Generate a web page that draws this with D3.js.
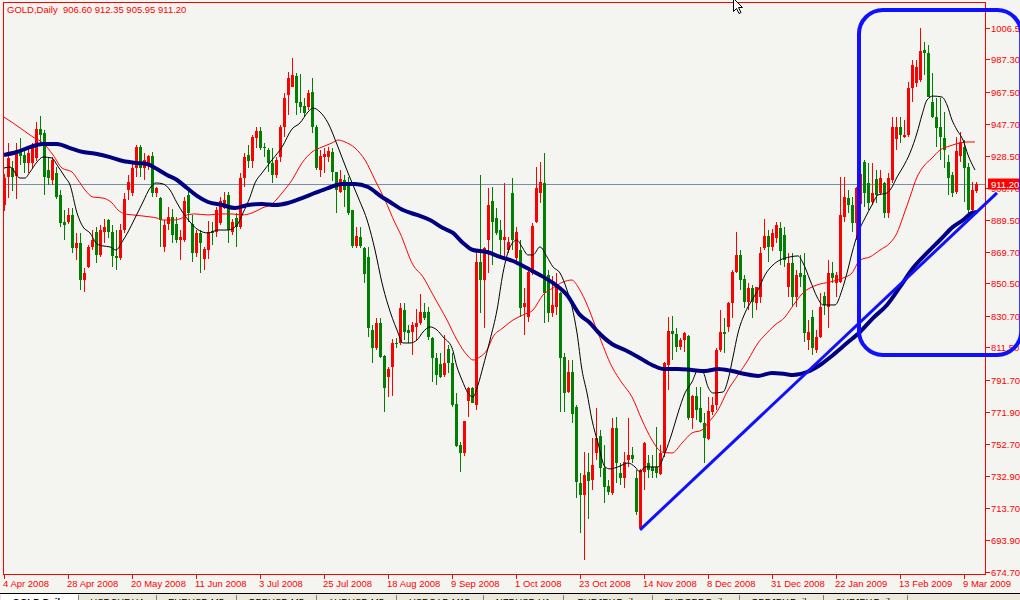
<!DOCTYPE html>
<html><head><meta charset="utf-8">
<script src="https://cdn.jsdelivr.net/npm/d3@7"></script>
<style>
body{margin:0;background:#f4f5f1;overflow:hidden;}
svg{display:block;}
text{font-family:"Liberation Sans",Arial,sans-serif;font-size:9.5px;white-space:pre;}
</style>
</head><body>
<svg id="c" width="1020" height="600"></svg>
<script>
// ---------- DATA ----------
const opens=[898.4,915.6,920.7,916,932,929,924,924,927,944.5,942,919.7,913.6,917.7,904.5,888.2,888.2,892.3,872,875,852.6,860.7,873,882,868,882,889,882,867,866,883,907.5,905.5,920.7,934,921,924,928,905.5,902.4,873,887,891,887,877,877,904.5,887,869,881,865.2,870.9,882.5,882.1,887.2,896.3,904.5,882.1,890.2,885.1,914.6,928.9,925.4,939,943.7,933.5,931.9,923.8,916.7,927.8,946.1,965.5,970.5,977,961.4,958.7,957.9,967.5,946.1,919.7,927.4,927.4,930.9,918.7,906.5,913.6,912.6,895.3,873.4,879,871.9,866.9,822.1,811,826.2,806.3,793.7,799.8,814.4,814,834.3,822,821.1,824.2,826.2,833.3,833.3,817,804.8,801.4,794.7,810.3,801.8,776.8,752,746.9,779,787,776.4,863.8,852.6,877,901,890.2,883.1,877,870.9,905.5,865.8,870.9,836.3,830.3,856.7,888.2,905.5,911.6,855.7,832.3,836.3,844.5,805.9,784.5,796.7,775.4,728.6,721.5,735.7,730.6,746.9,757.5,737.7,727,722.5,762.1,734.7,731.6,742.8,745.9,731.6,701.1,735.7,740.8,738.8,738.8,734.3,746.9,800.7,821.7,819.7,811.9,816,818.4,768.2,781.9,774.3,765.6,755.4,772.3,776.4,809.9,821.1,824.1,838.4,857.7,867.9,853,839.4,847.5,838.4,842.4,871.9,879.5,873,878,884.5,880.1,848.6,862.8,842.5,856.7,855.7,816,830.3,809.9,818,842.9,836.4,856.7,850.6,851.6,891.3,902.4,898.4,887.2,899,924.8,911.6,900.4,914,905.5,911.6,893.7,913.6,938.4,945.7,940,941,969.5,972.6,974.6,992.9,990.9,961.4,952.2,946.1,939,924.8,916.7,906,928,933.9,921.7,895.3,906.6];
const highs=[917,936,925,936,939,932,933,936,949,952.6,944,927.8,927.8,921.7,907.5,895.3,896.3,896.3,881,881,859.7,874,883,885,886,890,890,886,883,887,905.5,916.7,923.8,935,935,930,929,930.9,909.5,903.4,889,897,896,891,883,903,907.5,892,883,883,873,888.8,888,897.3,903.4,906.5,906.5,889.6,893.3,918,929.9,935,941,946.1,946.1,936,932.9,932.9,927.8,947.2,966.9,979.7,987.8,978.7,978.3,963.4,968.5,975.6,947.2,931.9,932.9,934,932.9,918.7,919.7,916.7,915.6,895.3,885.1,885.1,872.9,872.9,825.2,829.2,829.2,806.9,799.8,816.4,817,838.8,838.4,825,827.2,834.7,844,838.4,836.3,818,807.9,807.9,819.1,813,807.9,783.5,754,766.6,787.4,787.4,868.9,916.7,872.9,908.5,909.5,896.3,889.2,911.6,879,914.6,885.1,877,847.5,858.7,887.2,921.7,924.8,930.3,858.7,855,856.7,845.5,808,803.8,803.8,776.4,734.7,747.9,746.9,756.1,774.3,761.1,752,730.6,768.2,769.2,740.8,747.9,768.2,751,736.7,737.1,754.1,745.9,745.9,763.2,752,802.8,829.8,830.6,823.1,817,821.1,819.1,782.5,787.6,787.6,771.3,781.5,781.5,810.9,834.3,829.2,839.4,858.7,882.1,870.9,855.7,850.6,849.6,848.6,872.9,889.6,883.1,884,888,888.2,885.2,868.9,868.9,858.7,867.9,868.9,828.2,834.3,822.1,844.5,845.5,864.8,863.8,857.7,915.6,915.6,907.5,903.4,909.5,921,925.8,923.8,923.8,919.7,919.7,912.6,917.7,952.2,952.2,952.2,950.2,973.6,986.8,986.8,1006.1,998,996,978.7,963.4,963.4,955.3,929,918.7,940,943,938,924,912.6,912.35];
const lows=[895,902.4,907,902,923,918,918,921,925,936,904.5,910.6,910.6,902,885,877,887,868.9,864.8,846.5,845.5,860,870.9,862.8,866.9,875,878,860.7,858.7,864.8,881,901.4,904,915.6,915.6,913.6,919.7,903.4,903.4,873,869.9,883,875,875,864.8,876,888.2,863.8,866.9,857,858.7,865.2,874,879,886,896,875.4,880,873,884,909.5,920.7,920.7,932.9,931.9,927.8,918.7,912,914.6,924.8,940,953.3,970.5,953.3,954.3,952.2,956.3,942,919.7,915.6,917.7,924.8,913.2,893.3,905.5,897.3,892,871.9,871.9,871.9,850.6,817.7,801.8,809.9,804.8,772.3,781.5,781.9,811,813,816,814,806.9,816,825.2,828.2,816,790.6,788.6,792.7,793.7,795.7,775.4,751,735.7,745.3,769.3,777.4,773.3,832.3,823.1,856.7,861.8,880,867.9,866.9,868.9,870.9,863.8,830.3,819.1,827.2,855.7,887.2,899.4,826.2,827.2,830.3,831.3,772.3,772.3,783.5,765.2,719.5,698.1,681.8,706.6,724.5,742.8,732.7,716.4,721.5,721.5,728.6,727.6,725.5,738.8,740.8,709.3,700.1,724.5,731.6,731.6,731.6,733.7,744.9,785.5,803.8,808.9,809.9,808.9,767.2,761.5,767.2,765.6,740.8,755,770.3,773.3,808.9,807.9,821.1,829.2,856.7,846.5,835.3,834.3,829.2,834.3,838.4,870.9,863.8,870,875,861.8,860.7,842.5,836.4,836.4,848.6,815,809.9,806.9,807.9,817,831.3,823.1,850.6,842.5,850.6,888.2,893.3,882.1,877,897,897.3,895.3,898.4,899.8,904.5,890.2,890.2,911.6,931.9,936,939,940,961.4,970.5,973.6,977.7,964,951.2,933.9,925.8,920.7,904.5,903,905,924.8,900,893.3,893,905.95];
const closes=[914.6,926.8,915.6,932,928,924,930,933,944.5,941,915.6,914.6,925.8,903.4,887.2,886.2,892.3,871.9,875,852.6,856.7,872.9,877,868,883,885,882,867,866,883,902,912.6,920.7,933.9,921,926,928,905.5,908.5,889.2,886,891,880,877,879,901,893.3,869,881,875.4,871.3,882.1,881.1,895.3,901,901.4,883.1,888.2,885.1,914.6,927.8,925.2,940,943.7,932.9,932.9,923.8,916.7,925.8,946.1,963.8,975.6,977.6,960.4,957.9,954.3,966.9,946.1,920.7,928.2,929.4,931.5,918.7,907.5,914,907.5,893.3,873.4,879.5,873.4,856.3,823.1,811,826.6,805.9,786.6,798.1,814,813.6,835.3,821.1,820.5,825.2,826.6,833.3,829.2,818,804.8,794.7,793.7,802.2,801.8,776.4,751.4,747.3,766.6,787,777.8,863.8,852.6,871.9,898.4,888.2,881.1,877,879,875.9,877,882.1,835.3,838.4,857.7,885.5,908.5,912.6,844.5,832.3,837.4,848.6,804.8,783.9,796.7,770.9,729.6,721.5,733.7,730.2,739.8,756,737.7,726.6,723.5,762.1,740.8,731.6,741.8,745.9,743.2,711.3,736.7,753.4,736.7,736.3,734.7,746.9,801.8,821.7,819.7,811.9,816,820.1,768.2,781.9,773.3,766.2,756,772.9,776.4,809.9,821.1,819.5,838.4,857.7,867.9,852.6,839.4,847.5,839.4,848.1,868.9,879.5,872.9,881.5,886,870,864.8,862.8,842.5,855.7,854.7,820.1,821.1,811,818,836.4,837.4,856.7,853.6,855.7,892.3,903.4,898.4,887.2,908.5,917,905.5,899.4,905.5,904.5,914.6,893.7,914.6,946.1,945.7,941,941,969.5,983.8,982.7,992.5,990.9,964.4,952.2,945.1,940,931.9,914.6,905.5,931,937,920.7,895.3,907.5,911.2];

const dateTickBars=[0,16,32,48,64,80,96,112,128,144,160,176,192,208,224,240];
const dateTickLabels=["4 Apr 2008","28 Apr 2008","20 May 2008","11 Jun 2008","3 Jul 2008","25 Jul 2008","18 Aug 2008","9 Sep 2008","1 Oct 2008","23 Oct 2008","14 Nov 2008","8 Dec 2008","31 Dec 2008","22 Jan 2009","13 Feb 2009","9 Mar 2009"];
const priceTicks=[1006.5,987.3,967.5,947.7,928.5,908.7,889.5,869.7,850.5,830.7,811.5,791.7,771.9,752.7,732.9,713.7,693.9,674.7];

// moving averages: [bar, price]
const maFast=[[0,920.9],[1.5,921.5],[4,914.8],[5.25,914.8],[6.5,918.5],[8.25,924.6],[9.75,927.6],[12,927],[13.25,922.8],[15.25,915.4],[16.5,910.6],[18.25,893.5],[19.75,885],[21.5,881.3],[23.25,874.6],[24.75,873.4],[26.5,872.8],[28,870.9],[29.5,875.8],[31,881.9],[32.75,890.4],[34.75,900.2],[36.5,908.7],[38,911.8],[39.75,911.2],[41.5,907.5],[43.25,899.6],[44.75,893.5],[46.5,888],[48.25,883.7],[51,881.3],[53.5,883.1],[56,883.1],[58.25,886.2],[59.75,893.5],[61.5,903.2],[62.75,911.8],[64.5,917.9],[67,925.8],[69.5,933.7],[72,944.7],[74,948.4],[76,955.1],[77.25,957.5],[79,955.1],[81,948.4],[83.5,933.7],[86,917.9],[88.5,903.2],[91,887.4],[92.75,870.9],[94.5,850.8],[96,837.4],[98.25,822.1],[99.75,814.2],[101.5,814.2],[103.25,816],[104.75,820.9],[106.5,824],[108.25,822.1],[109.75,817.9],[112,811.2],[113.25,799.6],[114.5,791.6],[116,783.7],[117.25,781.3],[118.5,788.6],[119.75,799.6],[121.5,816],[123.25,834.3],[124.75,856.9],[126.5,872.8],[128.25,877],[129.5,872.8],[131,867.9],[132.25,867.9],[134,872.8],[135.75,866.7],[137.25,860.6],[139,856.9],[140.75,846.5],[142,836.2],[143.25,820.3],[144.5,797.7],[145.75,783.7],[147,767.2],[148.5,753.2],[150.25,738.6],[151.5,737.4],[153.5,738.6],[156,741],[157.75,738.6],[159,735.5],[160.25,738.6],[163.5,738.6],[165.25,747.1],[167,759.3],[168.5,771.5],[170.25,783.7],[172,790.4],[173.5,797.7],[174.75,796.5],[176,787.4],[177.25,783.7],[179.75,784.3],[181,791.6],[182.25,805.7],[183.5,820.3],[185.25,832.5],[187,840.4],[188.5,846.5],[190.25,855.7],[192.25,861.8],[194,864.8],[196.5,866.7],[198.5,867.3],[199.75,863],[201.5,852.6],[203.25,842.3],[204.75,837.4],[207.75,837.4],[209.5,846.5],[210.75,856.9],[212,869.1],[213.5,881.3],[215.25,890.4],[217,898.4],[218.5,904.5],[220.75,905.7],[222,909.3],[223.25,915.4],[224.75,921.5],[226.5,930.1],[228.25,942.3],[229.5,953.3],[230.75,962.4],[232.25,964.8],[234.5,964.2],[235.75,959.4],[237,950.2],[238.25,944.1],[239.75,938],[241,928.9],[242.75,919.7]];
const maMid=[[0,952],[2.25,948.4],[4.75,944.1],[7.25,939.8],[9.75,936.2],[12.25,928.9],[14.5,920.9],[17,918.5],[18.5,913.6],[20.25,907.5],[22.25,903.2],[24.75,902.6],[27,899.6],[28.5,895.3],[30.25,892.9],[32.25,892.3],[34.5,891.7],[36.5,891.1],[38.25,890.4],[39.75,889.2],[42.25,889.2],[44.5,890.4],[45.75,892.3],[47.75,892.9],[51,892.3],[54.5,892.9],[57,892.9],[59.5,892.3],[62,893.5],[64.5,896.5],[67,899],[69.5,905.7],[72,913.6],[74.5,924],[77,930.7],[79.5,933.7],[82,936.2],[83.5,938],[85.25,936.8],[87.75,933.1],[90.25,925.8],[92.75,913.6],[95.25,901.4],[97.75,887.4],[99,881.3],[102.25,861.8],[104.75,854.5],[107.25,843.5],[110.75,828.2],[113.25,816],[115.75,806.9],[117.25,803.8],[119,805.7],[120.75,809.9],[122.25,817.9],[124.75,823.4],[127.25,828.2],[129.75,831.3],[132.25,834.3],[134.75,843.5],[137.25,847.7],[139.75,851.4],[142,852.6],[143.5,848.4],[145.25,840.4],[148.5,820.3],[152,799.6],[154.5,789.8],[157,781.3],[159.5,767.2],[162,755],[164.5,747.7],[167,747.1],[169.5,753.2],[172,759.3],[174.5,761.1],[176,765.4],[178.5,773.3],[181,785.5],[183.5,794.7],[186,803.8],[188.5,814.2],[190.25,819.1],[192.75,825.2],[195.25,830],[196.5,834.3],[199.75,844.7],[203.25,849.6],[206.5,851.4],[209.75,853.8],[212,856.9],[214,864.8],[216.5,866.7],[219,870.9],[221.5,875.2],[223.25,881.3],[224.75,891.1],[226.5,903.3],[228.25,915.4],[229.75,921.5],[232,927],[234,931.9],[236.5,934.4],[239,936.2],[240.75,936.8],[242.75,936.8]];
const maSlow=[[0,928.9],[3.25,930.7],[6.5,933.7],[9.75,935.6],[13.25,935.6],[16.5,933.1],[19.75,930.7],[23.25,929.5],[26.5,927.6],[29.75,925.2],[33.25,924],[35.75,923.4],[38.25,920.3],[40.75,916.7],[43.25,913.6],[45.75,908.7],[48.25,903.9],[51,900.2],[54.5,898.4],[57.75,896.5],[61,898.4],[64.5,899],[67.75,898.4],[71,899.6],[74.5,902.6],[77.75,905.7],[81,908.7],[84.5,911.2],[87.75,911.2],[91,909.3],[94.5,903.2],[96.5,900.2],[99.75,895.3],[103.25,892.3],[106.5,889.2],[109.75,884.3],[112.25,881.3],[114.75,875.2],[117.25,870.9],[120.75,869.7],[124,866.7],[127.25,864.2],[130.75,859.9],[134,855.7],[137.25,850.8],[140.75,843.5],[144,831.3],[146.5,826.4],[148.5,820.9],[152,813.6],[155.25,809.9],[158.5,805.7],[162,800.8],[164.75,798.4],[168.5,798.4],[172,797.7],[175.25,797.1],[178.5,798.4],[182,797.1],[185.25,795.3],[188.5,794.1],[192,795.9],[195.25,795.3],[197.25,794.7],[200.75,796.5],[204,800.8],[207.25,806.9],[210.75,814.2],[214,820.9],[217.25,829.4],[220.75,837.4],[224,848.4],[227.25,859.9],[230.75,869.1],[234,877],[237.25,885],[239.75,889.2],[242,893.5],[243.25,894.1]];

// drawing objects (bar, price)
const trendLine=[[159,700.2],[248.25,905.7]];
const boxBars=[213.75,254.3];
const boxPrices=[1017.3,806.9];
const lastPrice=911.2;
const titleText="GOLD,Daily  906.60 912.35 905.95 911.20";
const tabLabels=["GOLD,Daily","USDCHF,H4","EURUSD,M5","GBPUSD,M5","AUDUSD,M5","USDCAD,M15","NZDUSD,H1","EURJPY,Daily","EURGBP,Daily","GBPJPY,Daily","CHFJPY,Daily"];

// ---------- DRAW ----------
const svg=d3.select("#c");
const W=1020,H=600;
const plotL=3,plotR=985,plotT=2,plotB=574;
const x=d3.scaleLinear().domain([0,243]).range([4,976]);
const y=d3.scaleLinear().domain([674.7,1006.5]).range([571.7,27.7]);
const RED="#ff0000",GREEN="#008000";

svg.append("rect").attr("width",W).attr("height",H).attr("fill","#f4f5f1");

// bid line
svg.append("line").attr("x1",plotL).attr("x2",plotR).attr("y1",Math.round(y(lastPrice))+0.5).attr("y2",Math.round(y(lastPrice))+0.5)
  .attr("stroke","#7a8ea8").attr("stroke-width",1);

// candles
const bars=d3.range(opens.length).map(i=>({i,o:opens[i],h:highs[i],l:lows[i],c:closes[i]}));
const cg=svg.append("g").attr("shape-rendering","crispEdges");
cg.selectAll("rect.w").data(bars).join("rect").attr("class","w")
  .attr("x",d=>Math.round(x(d.i))).attr("width",1)
  .attr("y",d=>Math.round(y(d.h))).attr("height",d=>Math.max(1,Math.round(y(d.l))-Math.round(y(d.h))))
  .attr("fill",d=>d.c>=d.o?RED:GREEN);
cg.selectAll("rect.b").data(bars).join("rect").attr("class","b")
  .attr("x",d=>Math.round(x(d.i))-1).attr("width",3)
  .attr("y",d=>Math.round(y(Math.max(d.o,d.c))))
  .attr("height",d=>Math.max(1,Math.round(y(Math.min(d.o,d.c)))-Math.round(y(Math.max(d.o,d.c)))))
  .attr("fill",d=>d.c>=d.o?RED:GREEN);

// moving averages
const line=d3.line().x(d=>x(d[0])).y(d=>y(d[1])).curve(d3.curveMonotoneX);
svg.append("path").attr("d",line(maMid)).attr("fill","none").attr("stroke",RED).attr("stroke-width",1);
svg.append("path").attr("d",line(maFast)).attr("fill","none").attr("stroke","#000").attr("stroke-width",1);
svg.append("path").attr("d",line(maSlow)).attr("fill","none").attr("stroke","#000080").attr("stroke-width",4).attr("stroke-linejoin","round");

// frame
svg.append("path").attr("d",`M${plotL+0.5},${plotB+0.5}V${plotT+0.5}H${plotR+0.5}V${plotB+0.5}H${plotL+0.5}`)
  .attr("fill","none").attr("stroke",RED).attr("stroke-width",1).attr("shape-rendering","crispEdges");

// bottom axis
const xa=svg.append("g");
dateTickBars.forEach((b,k)=>{
  const px=Math.round(x(b))+0.5;
  xa.append("line").attr("x1",px).attr("x2",px).attr("y1",plotB).attr("y2",plotB+5).attr("stroke",RED).attr("shape-rendering","crispEdges");
  xa.append("text").attr("x",px-1.5).attr("y",587).attr("fill",RED).text(dateTickLabels[k]);
});

// right axis
const ya=svg.append("g");
priceTicks.forEach(p=>{
  const py=Math.round(y(p))+0.5;
  ya.append("line").attr("x1",plotR).attr("x2",plotR+5).attr("y1",py).attr("y2",py).attr("stroke",RED).attr("shape-rendering","crispEdges");
  ya.append("text").attr("x",991).attr("y",py+3.5).attr("fill",RED).text(p.toFixed(2));
});

// last price label
const ly=Math.round(y(lastPrice));
svg.append("rect").attr("x",988).attr("y",ly-5.5).attr("width",34).attr("height",11).attr("fill",RED);
svg.append("text").attr("x",991).attr("y",ly+3.5).attr("fill","#fff").text(lastPrice.toFixed(2));

// title
svg.append("text").attr("x",7).attr("y",13).attr("fill",RED).attr("xml:space","preserve").text(titleText);

// drawing objects
svg.append("line").attr("x1",x(trendLine[0][0])).attr("y1",y(trendLine[0][1])).attr("x2",x(trendLine[1][0])).attr("y2",y(trendLine[1][1]))
  .attr("stroke","#1010ff").attr("stroke-width",3);
svg.append("rect").attr("x",x(boxBars[0])).attr("y",y(boxPrices[0])).attr("width",x(boxBars[1])-x(boxBars[0])).attr("height",y(boxPrices[1])-y(boxPrices[0]))
  .attr("rx",24).attr("fill","none").attr("stroke","#1010ff").attr("stroke-width",4);

// tab bar
const tb=svg.append("g");
tb.append("rect").attr("x",0).attr("y",593).attr("width",W).attr("height",7).attr("fill","#ece9d8");
tb.append("line").attr("x1",0).attr("x2",W).attr("y1",593.5).attr("y2",593.5).attr("stroke","#000").attr("shape-rendering","crispEdges");
const tabX=[0,78,156,236,316,396,483,563,652,739,823,907,990];
tabLabels.forEach((t,k)=>{
  const x0=tabX[k],x1=tabX[k+1];
  if(k===0){tb.append("rect").attr("x",x0+1).attr("y",594).attr("width",x1-x0-1).attr("height",6).attr("fill","#fff");}
  tb.append("line").attr("x1",x1+0.5).attr("x2",x1+0.5).attr("y1",595).attr("y2",600).attr("stroke","#808080").attr("shape-rendering","crispEdges");
  tb.append("text").attr("x",(x0+x1)/2).attr("y",605).attr("text-anchor","middle").attr("fill","#000").attr("font-weight",k===0?"bold":"normal").text(t);
});

// mouse cursor
svg.append("path").attr("d","M733.5,-1.5V11.5L736.5,8.5L739,13.5L741,12.5L738.5,7.5H742.5Z").attr("fill","#fff").attr("stroke","#000").attr("stroke-width",1);
</script>
</body></html>
